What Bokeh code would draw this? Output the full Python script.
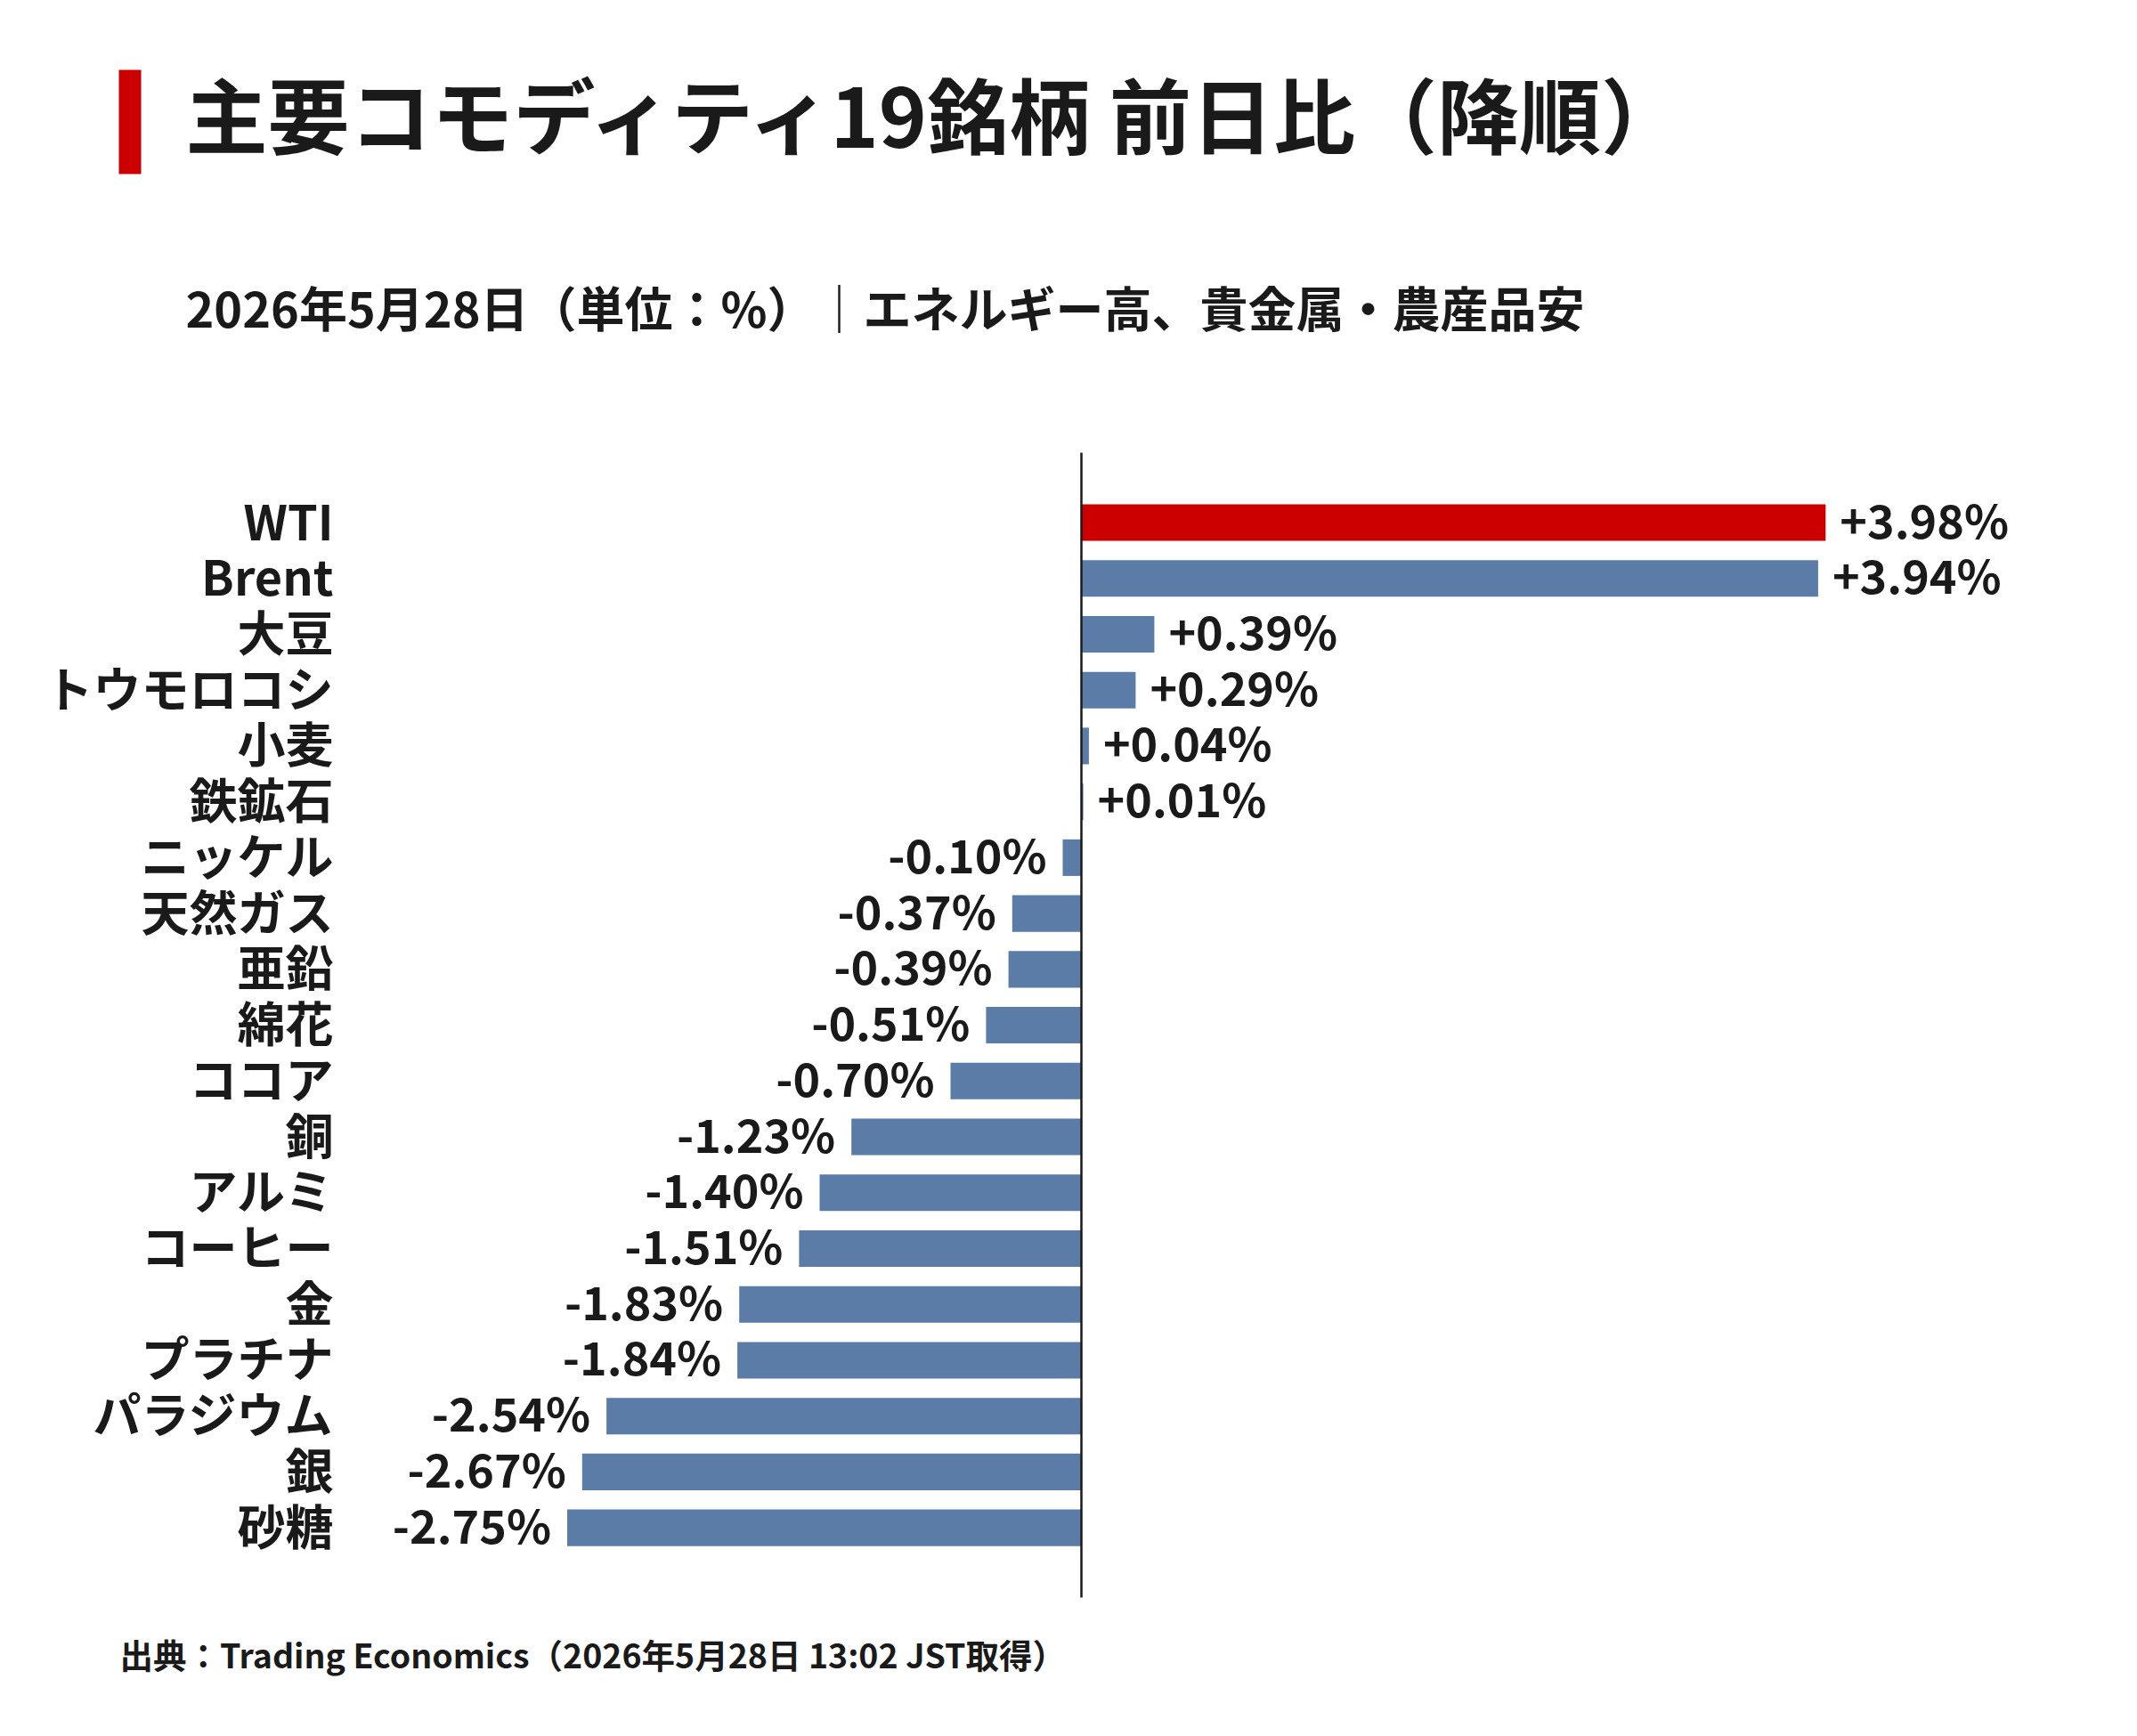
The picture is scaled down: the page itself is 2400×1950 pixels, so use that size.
from bokeh.plotting import figure
from bokeh.models import Range1d, Label, BoxAnnotation, ColumnDataSource
from bokeh.core.properties import value
from bokeh.embed import file_html
from bokeh.resources import INLINE

# Daily change of 19 major commodities, sorted descending (%)
commodities = ["WTI", "Brent", "大豆", "トウモロコシ", "小麦", "鉄鉱石", "ニッケル",
               "天然ガス", "亜鉛", "綿花", "ココア", "銅", "アルミ", "コーヒー", "金",
               "プラチナ", "パラジウム", "銀", "砂糖"]
changes = [3.98, 3.94, 0.39, 0.29, 0.04, 0.01, -0.10, -0.37, -0.39, -0.51, -0.70,
           -1.23, -1.40, -1.51, -1.83, -1.84, -2.54, -2.67, -2.75]
highlight = "WTI"

title_text = "主要コモディティ19銘柄 前日比（降順）"
subtitle_text = "2026年5月28日（単位：%）｜エネルギー高、貴金属・農産品安"
source_text = "出典：Trading Economics（2026年5月28日 13:02 JST取得）"

FONT = "Noto Sans CJK JP"
INK = "#1a1a1a"
RED = "#cc0000"
BLUE = "#5b7ca6"

W, H = 2400, 1950
ZERO_PX = 1214          # horizontal pixel of the zero line
PX_PER_PCT = 210.0      # pixels per percentage point
FIRST_ROW_PX = 586.5    # vertical pixel of the first row centre
ROW_PX = 62.73          # row pitch in pixels

n = len(commodities)
idx = list(range(n))

x_range = Range1d(-ZERO_PX / PX_PER_PCT, (W - ZERO_PX) / PX_PER_PCT)
y_range = Range1d((H - FIRST_ROW_PX) / ROW_PX, -FIRST_ROW_PX / ROW_PX)

p = figure(width=W, height=H, x_range=x_range, y_range=y_range,
           output_backend="svg", toolbar_location=None,
           min_border=0, min_border_left=0, min_border_right=0,
           min_border_top=0, min_border_bottom=0)
p.axis.visible = False
p.grid.visible = False
p.outline_line_color = None
p.background_fill_color = "white"
p.border_fill_color = "white"

labels = [("+" if v > 0 else "") + f"{v:.2f}%" for v in changes]
src = ColumnDataSource(dict(
    y=idx, name=commodities, v=changes, label=labels,
    color=[RED if c == highlight else BLUE for c in commodities],
    align=["left" if v >= 0 else "right" for v in changes],
    xoff=[16 if v >= 0 else -18 for v in changes],
))

# bars
p.hbar(y="y", left=0, right="v", height=0.655, fill_color="color",
       line_color=None, source=src)

# zero line
p.segment(x0=0, y0=-1.25, x1=0, y1=n - 1 + 1.25, line_color=INK, line_width=2.5)

# value labels
p.text(x="v", y="y", text="label", x_offset="xoff", y_offset=-5, text_align="align",
       text_baseline="middle", text_font=value(FONT), text_font_style="bold",
       text_font_size="52px", text_color=INK, source=src)

# category labels, right-aligned left of the bars
p.text(x=0, y="y", text="name", x_offset=-(ZERO_PX - 374), y_offset=-4,
       text_align="right", text_baseline="middle", text_font=value(FONT),
       text_font_style="bold", text_font_size="54px", text_color=INK, source=src)

# title accent bar
p.add_layout(BoxAnnotation(left=133, right=158, top=H - 78, bottom=H - 195,
                           left_units="screen", right_units="screen",
                           top_units="screen", bottom_units="screen",
                           fill_color=RED, fill_alpha=1.0, line_color=None,
                           level="overlay"))

def screen_label(text, x, y_px, size):
    return Label(x=x, y=H - y_px, x_units="screen", y_units="screen", text=text,
                 text_font=FONT, text_font_style="bold", text_font_size=size,
                 text_color=INK, text_baseline="middle", text_align="left")

p.add_layout(screen_label(title_text, 208, 125, "92px"))
p.add_layout(screen_label(subtitle_text, 208, 344, "54px"))
p.add_layout(screen_label(source_text, 134, 1857, "37.5px"))

open("out.html", "w").write(file_html(p, INLINE))
